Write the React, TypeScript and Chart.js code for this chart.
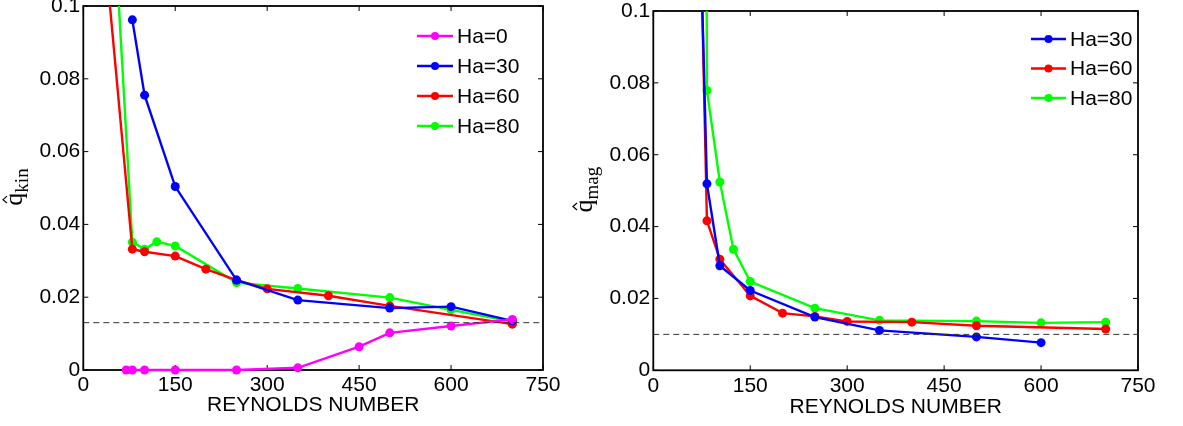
import React, { useEffect, useRef } from "react";
import { Chart, registerables } from "chart.js";

Chart.register(...registerables);

// ---------------- data ----------------
const xTickValues = [0, 150, 300, 450, 600, 750];
const xTickLabels = ["0", "150", "300", "450", "600", "750"];
const yTickValues = [0, 0.02, 0.04, 0.06, 0.08, 0.1];
const yTickLabels = ["0", "0.02", "0.04", "0.06", "0.08", "0.1"];

const labelHa0 = "Ha=0";
const labelHa30 = "Ha=30";
const labelHa60 = "Ha=60";
const labelHa80 = "Ha=80";
const colorHa0 = "#ff00ff";
const colorHa30 = "#0000ff";
const colorHa60 = "#ff0000";
const colorHa80 = "#00ff00";

// left panel: q_kin
const kinReHa0 = [70, 80, 100, 150, 250, 350, 450, 500, 600, 700];
const kinQHa0 = [0, 0, 0, 0, 0, 0.0006, 0.0064, 0.0102, 0.0121, 0.0139];
const kinReHa30 = [80, 100, 150, 250, 350, 500, 600, 700];
const kinQHa30 = [0.0962, 0.0755, 0.0504, 0.0247, 0.0192, 0.017, 0.0174, 0.0135];
const kinReHa60 = [40, 80, 100, 150, 200, 250, 300, 400, 500, 700];
const kinQHa60 = [0.1064, 0.0332, 0.0325, 0.0313, 0.0277, 0.0247, 0.0223, 0.0204, 0.0176, 0.0126];
const kinReHa80 = [50, 80, 100, 120, 150, 250, 350, 500, 600, 700];
const kinQHa80 = [0.124, 0.0351, 0.0332, 0.0352, 0.0341, 0.024, 0.0224, 0.0199, 0.0165, 0.0133];
const kinRefLevel = 0.013;

// right panel: q_mag
const magReHa30 = [70, 83, 103, 150, 250, 350, 500, 600];
const magQHa30 = [0.141, 0.0519, 0.0291, 0.0222, 0.0148, 0.0111, 0.0093, 0.0077];
const magReHa60 = [70, 83, 103, 150, 200, 250, 300, 400, 500, 700];
const magQHa60 = [0.148, 0.0416, 0.0309, 0.0207, 0.0159, 0.015, 0.0136, 0.0134, 0.0124, 0.0115];
const magReHa80 = [75, 83, 103, 124, 150, 250, 350, 500, 600, 700];
const magQHa80 = [0.6, 0.0779, 0.0524, 0.0337, 0.0247, 0.0173, 0.0139, 0.0137, 0.0132, 0.0134];
const magRefLevel = 0.01;

const xMin = 0;
const xMax = 750;
const yMin = 0;
const yMax = 0.1;

// ---------------- helpers ----------------
const SANS = "'Liberation Sans', Arial, Helvetica, sans-serif";
const SERIF = "'Liberation Serif', 'Times New Roman', serif";
const FONT_SIZE = 21;

type Series = { label: string; color: string; re: number[]; q: number[] };

function seriesDataset(s: Series) {
  return {
    label: s.label,
    data: s.re.map((x, i) => ({ x, y: s.q[i] })),
    borderColor: s.color,
    backgroundColor: s.color,
    borderWidth: 2.4,
    pointRadius: 4.5,
    pointHoverRadius: 4.5,
    pointBorderWidth: 0,
    tension: 0,
    clip: { left: 6, right: 6, top: 0, bottom: 6 },
  };
}

function refDataset(level: number) {
  return {
    label: "",
    isRef: true,
    data: [
      { x: xMin, y: level },
      { x: xMax, y: level },
    ],
    borderColor: "#333333",
    backgroundColor: "#333333",
    borderWidth: 1,
    borderDash: [6, 4],
    pointRadius: 0,
    pointHoverRadius: 0,
    tension: 0,
  };
}

const framePlugin = {
  id: "frame",
  beforeDatasetsDraw(chart: any) {
    const { ctx, chartArea: a, scales } = chart;
    ctx.save();
    ctx.strokeStyle = "#000";
    ctx.lineWidth = 1.8;
    ctx.strokeRect(a.left, a.top, a.right - a.left, a.bottom - a.top);
    ctx.lineWidth = 1;
    const len = 5;
    ctx.beginPath();
    for (const v of xTickValues) {
      const px = scales.x.getPixelForValue(v);
      ctx.moveTo(px, a.bottom);
      ctx.lineTo(px, a.bottom - len);
      ctx.moveTo(px, a.top);
      ctx.lineTo(px, a.top + len);
    }
    for (const v of yTickValues) {
      const py = scales.y.getPixelForValue(v);
      ctx.moveTo(a.left, py);
      ctx.lineTo(a.left + len, py);
      ctx.moveTo(a.right, py);
      ctx.lineTo(a.right - len, py);
    }
    ctx.stroke();
    ctx.restore();
  },
};

type LegendSpec = { lineX0: number; lineX1: number; textX: number; y0: number; dy: number };

function legendPlugin(spec: LegendSpec) {
  return {
    id: "customLegend",
    afterDatasetsDraw(chart: any) {
      const { ctx } = chart;
      const items = chart.data.datasets.filter((d: any) => !d.isRef);
      ctx.save();
      items.forEach((d: any, i: number) => {
        const y = spec.y0 + i * spec.dy;
        ctx.strokeStyle = d.borderColor;
        ctx.lineWidth = 2.4;
        ctx.beginPath();
        ctx.moveTo(spec.lineX0, y);
        ctx.lineTo(spec.lineX1, y);
        ctx.stroke();
        ctx.fillStyle = d.borderColor;
        ctx.beginPath();
        ctx.arc((spec.lineX0 + spec.lineX1) / 2, y, 4, 0, Math.PI * 2);
        ctx.fill();
        ctx.fillStyle = "#000";
        ctx.font = `${FONT_SIZE}px ${SANS}`;
        ctx.textAlign = "left";
        ctx.textBaseline = "middle";
        ctx.fillText(d.label, spec.textX, y + 1);
      });
      ctx.restore();
    },
  };
}

function yLabelPlugin(main: string, sub: string, baseX: number) {
  return {
    id: "yLabel",
    afterDraw(chart: any) {
      const { ctx, chartArea } = chart;
      const cy = (chartArea.top + chartArea.bottom) / 2 - 1;
      const mainFont = `26px ${SERIF}`;
      const subFont = `19px ${SERIF}`;
      ctx.save();
      ctx.translate(baseX, cy);
      ctx.rotate(-Math.PI / 2);
      ctx.fillStyle = "#000";
      ctx.strokeStyle = "#000";
      ctx.textBaseline = "alphabetic";
      ctx.font = mainFont;
      const wq = ctx.measureText(main).width;
      ctx.font = subFont;
      const ws = ctx.measureText(sub).width;
      const u0 = -(wq + ws) / 2;
      ctx.font = mainFont;
      ctx.textAlign = "left";
      ctx.fillText(main, u0, 0);
      // circumflex accent above the q
      const hc = u0 + wq / 2 - 0.5;
      ctx.lineWidth = 1.2;
      ctx.beginPath();
      ctx.moveTo(hc - 3.5, -15);
      ctx.lineTo(hc, -19);
      ctx.lineTo(hc + 3.5, -15);
      ctx.stroke();
      ctx.font = subFont;
      ctx.textAlign = "left";
      ctx.fillText(sub, u0 + wq, 6);
      ctx.restore();
    },
  };
}

type PanelSpec = {
  series: Series[];
  refLevel: number;
  padding: { left: number; right: number; top: number; bottom: number };
  yAxisWidth: number;
  xAxisHeight: number;
  titlePadBottom: number;
  legend: LegendSpec;
  ySub: string;
  yLabelX: number;
};

function makeConfig(p: PanelSpec): any {
  const tickFont = { family: SANS, size: FONT_SIZE };
  return {
    type: "line",
    data: {
      datasets: [refDataset(p.refLevel), ...p.series.map(seriesDataset)],
    },
    options: {
      animation: false,
      responsive: false,
      devicePixelRatio: 1,
      events: [],
      layout: { padding: p.padding },
      plugins: {
        legend: { display: false },
        tooltip: { enabled: false },
        title: { display: false },
      },
      scales: {
        x: {
          type: "linear",
          min: xMin,
          max: xMax,
          grid: { display: false, drawTicks: false },
          border: { display: false },
          afterBuildTicks: (s: any) => {
            s.ticks = xTickValues.map((v) => ({ value: v }));
          },
          afterFit: (s: any) => {
            s.height = p.xAxisHeight;
            s.paddingLeft = 0;
            s.paddingRight = 0;
          },
          ticks: {
            font: tickFont,
            color: "#000",
            padding: 3,
            maxRotation: 0,
            autoSkip: false,
            callback: (_v: any, i: number) => xTickLabels[i],
          },
          title: {
            display: true,
            text: "REYNOLDS NUMBER",
            color: "#000",
            font: tickFont,
            padding: { top: 0, bottom: p.titlePadBottom },
          },
        },
        y: {
          type: "linear",
          min: yMin,
          max: yMax,
          grid: { display: false, drawTicks: false },
          border: { display: false },
          afterBuildTicks: (s: any) => {
            s.ticks = yTickValues.map((v) => ({ value: v }));
          },
          afterFit: (s: any) => {
            s.width = p.yAxisWidth;
            s.paddingTop = 0;
            s.paddingBottom = 0;
          },
          ticks: {
            font: tickFont,
            color: "#000",
            padding: 3,
            autoSkip: false,
            callback: (_v: any, i: number) => yTickLabels[i],
          },
        },
      },
    },
    plugins: [framePlugin, legendPlugin(p.legend), yLabelPlugin("q", p.ySub, p.yLabelX)],
  };
}

const LEFT_W = 566;
const RIGHT_W = 617;
const H = 426;

function Panel({ left, width, spec }: { left: number; width: number; spec: PanelSpec }) {
  const ref = useRef<HTMLCanvasElement>(null);
  useEffect(() => {
    const chart = new Chart(ref.current as HTMLCanvasElement, makeConfig(spec));
    return () => chart.destroy();
  }, []);
  return (
    <canvas
      ref={ref}
      width={width}
      height={H}
      style={{ position: "absolute", left, top: 0, width, height: H }}
    />
  );
}

export default function App() {
  const kinSeries: Series[] = [
    { label: labelHa0, color: colorHa0, re: kinReHa0, q: kinQHa0 },
    { label: labelHa30, color: colorHa30, re: kinReHa30, q: kinQHa30 },
    { label: labelHa60, color: colorHa60, re: kinReHa60, q: kinQHa60 },
    { label: labelHa80, color: colorHa80, re: kinReHa80, q: kinQHa80 },
  ];
  const magSeries: Series[] = [
    { label: labelHa30, color: colorHa30, re: magReHa30, q: magQHa30 },
    { label: labelHa60, color: colorHa60, re: magReHa60, q: magQHa60 },
    { label: labelHa80, color: colorHa80, re: magReHa80, q: magQHa80 },
  ];
  const leftSpec: PanelSpec = {
    series: kinSeries,
    refLevel: kinRefLevel,
    padding: { left: 0, right: LEFT_W - 543, top: 6, bottom: 0 },
    yAxisWidth: 83.3,
    xAxisHeight: 56,
    titlePadBottom: 8.4,
    legend: { lineX0: 417, lineX1: 453, textX: 457, y0: 36, dy: 30 },
    ySub: "kin",
    yLabelX: 22,
  };
  const rightSpec: PanelSpec = {
    series: magSeries,
    refLevel: magRefLevel,
    padding: { left: 0, right: RIGHT_W - (1138 - LEFT_W), top: 11, bottom: 0 },
    yAxisWidth: 653.3 - LEFT_W,
    xAxisHeight: 55.7,
    titlePadBottom: 6,
    legend: { lineX0: 1031 - LEFT_W, lineX1: 1066 - LEFT_W, textX: 1070 - LEFT_W, y0: 39, dy: 29.5 },
    ySub: "mag",
    yLabelX: 592 - LEFT_W,
  };
  return (
    <div style={{ position: "absolute", left: 0, top: 0, width: 1183, height: H, background: "#fff", overflow: "hidden" }}>
      <Panel left={0} width={LEFT_W} spec={leftSpec} />
      <Panel left={LEFT_W} width={RIGHT_W} spec={rightSpec} />
    </div>
  );
}
